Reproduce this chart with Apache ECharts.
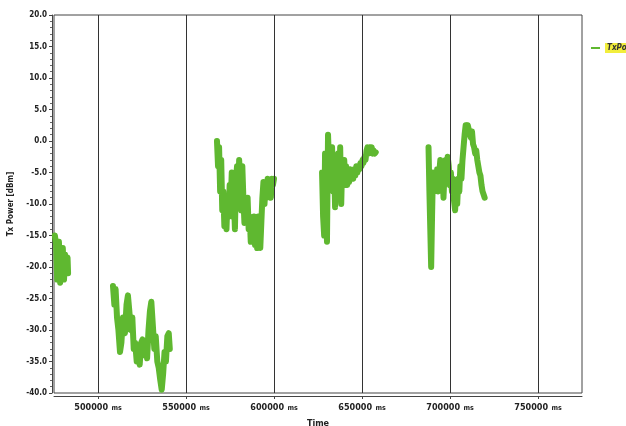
<!DOCTYPE html>
<html><head><meta charset="utf-8">
<script src="https://cdn.jsdelivr.net/npm/echarts@6/dist/echarts.min.js"></script>
<style>html,body{margin:0;padding:0;background:#fff}#c{width:626px;height:426px}</style>
</head><body><div id="c"></div>
<script>
// Time (ms) and Tx Power (dBm) per recorded segment
const seg1T = [475500,476200,476800,477300,477800,478500,479000,479500,480000,480700,481300,482000,482700,483000];
const seg1V = [-15,-16.5,-22,-18,-16,-22.5,-19,-21,-17,-22,-18,-20,-18.5,-21];
const seg2T = [508500,509300,510000,510800,511600,512500,513300,514200,515300,516200,517000,517800,518600,519500,520300,521100,522000,522800,523700,524500,525300,526200,527000,527900,528700,529500,530300,531100,532000,532800,533700,534500,535400,536200,537000,537800,538600,539400,540200,540800];
const seg2V = [-23,-26,-23.5,-28,-30,-33.5,-32,-28,-30.5,-26,-24.5,-27,-30,-28,-33,-32,-35,-34,-35.5,-32,-31.5,-34,-32,-34.5,-30,-27,-25.5,-29,-33,-31,-35,-36,-38,-39.5,-37,-33.5,-35,-31,-30.5,-33];
const seg3T = [567600,568200,568800,569400,570000,570600,571200,571800,572400,573000,573600,574200,574800,575400,576000,576600,577200,577800,578400,579000,579600,580200,580800,581400,582000,582600,583200,583800,584400,585000,585600,586200,586800,587400,588000,588600,589200,589800,590400,591000,591600,592200,592800,593400,594000,594600,595200,595800,596400,597000,597600,598200,598800,599400,600000];
const seg3V = [0,-4,-1,-8,-3,-11,-8,-13.5,-10,-14,-9,-12,-7,-10,-5,-12,-9,-14,-6,-4,-9,-3,-6,-11,-4,-9,-13,-10,-12,-9,-14,-12,-16,-13,-15,-12,-16.5,-14,-17,-12,-15,-17,-13,-9,-6.5,-10,-7,-9,-6,-8,-6.5,-9,-6,-7,-6];
const seg4T = [627300,627900,628500,629000,629600,630100,630700,631200,631800,632400,633000,633600,634200,634700,635300,635900,636400,637000,637600,638200,638700,639300,639900,640400,641000,641600,642200,642700,643300,643900,644500,645000,645600,646200,646800,647400,647900,648500,649100,649700,650300,650800,651400,652000,652600,653100,653700,654300,654900,655500,656100,656600,657200,657800];
const seg4V = [-5,-12,-15,-2,-8,-16,1,-3,-6,-4,-1,-8,-4,-10.5,-3,-6,-2,-9,-1,-10,-4,-7,-3,-6,-4,-7,-5,-6.5,-4.5,-6,-5,-6,-4.5,-5.5,-4,-5,-4,-4.5,-3.5,-4,-3,-3.5,-2.5,-3,-1.5,-1,-2,-1,-1.5,-1,-2,-1.5,-2,-1.8];
const seg5T = [687800,688300,688800,689300,689800,690300,690900,691500,692100,692700,693300,693900,694500,695100,695700,696300,696900,697500,698100,698700,699300,699900,700500,701100,701700,702300,702900,703500,704100,704700,705300,705900,706500,707100,707700,708300,708900,709500,710100,710700,711300,711900,712500,713100,713700,714300,714900,715500,716100,716700,717300,717900,718500,719100,719700];
const seg5V = [-1,-8,-14,-20,-12,-5,-8,-6,-7,-4.5,-8,-5,-3,-6,-4,-9,-5,-3,-6,-2.5,-4,-7,-5,-8,-6,-9.5,-11,-8,-10,-6,-8,-4,-6,-3,-1,1,2.5,1.5,2.5,2.5,1,0.5,1.5,-0.5,-1,-2,-1.5,-3,-4,-5,-5.5,-7,-8,-8.5,-9];
const xTicks = [500000,550000,600000,650000,700000,750000];
const seriesName = 'TxPower';

const FONT = "'Liberation Sans Narrow','DejaVu Sans Condensed','Liberation Sans',Arial,sans-serif";
const segs = [[seg1T,seg1V],[seg2T,seg2V],[seg3T,seg3V],[seg4T,seg4V],[seg5T,seg5V]];
const data = [];
segs.forEach(([t,v],i)=>{ if(i>0) data.push([t[0]-1,'-']); t.forEach((x,j)=>data.push([x,v[j]])); });

const chart = echarts.init(document.getElementById('c'));
chart.setOption({
  animation:false,
  backgroundColor:'#fff',
  grid:{left:54,top:15,right:44,bottom:33,outerBoundsMode:'none',containLabel:false,show:true,borderColor:'#444',borderWidth:1,backgroundColor:'transparent'},
  legend:{show:true,left:586,top:38,itemWidth:9,itemHeight:2,itemGap:0,
    data:[{name:seriesName,icon:'rect'}],
    textStyle:{fontFamily:FONT,fontSize:8,fontWeight:'bold',fontStyle:'italic',color:'#333',backgroundColor:'#f2ee3c',padding:[1,2]}},
  xAxis:{type:'value',min:475000,max:775000,
    name:'Time',nameLocation:'middle',nameGap:18,
    nameTextStyle:{fontFamily:FONT,fontSize:9,fontWeight:'bold',color:'#222'},
    axisLine:{show:true,onZero:false,lineStyle:{color:'#444',width:1}},
    offset:3,
    axisTick:{show:true,customValues:xTicks,length:3,lineStyle:{color:'#444'}},
    minorTick:{show:false},
    splitLine:{show:false},
    axisLabel:{customValues:xTicks,margin:6,color:'#222',
      formatter:v=>'{a|'+v+'} {b|ms}',
      rich:{a:{fontFamily:FONT,fontSize:9,fontWeight:'bold',color:'#222'},b:{fontFamily:FONT,fontSize:7,fontWeight:'bold',color:'#222'}}}
  },
  yAxis:{type:'value',min:-40,max:20,interval:5,
    name:'Tx Power [dBm]',nameLocation:'middle',nameGap:33,nameRotate:90,
    nameTextStyle:{fontFamily:FONT,fontSize:8,fontWeight:'bold',color:'#222'},
    offset:2,
    axisLine:{show:true,onZero:false,lineStyle:{color:'#444',width:1}},
    axisTick:{show:true,length:3,lineStyle:{color:'#444'}},
    minorTick:{show:true,splitNumber:5,length:2,lineStyle:{color:'#666'}},
    splitLine:{show:false},
    axisLabel:{margin:5,fontFamily:FONT,fontSize:8,fontWeight:'bold',color:'#222',formatter:v=>v.toFixed(1)}
  },
  series:[{
    name:seriesName,type:'line',data:data,showSymbol:false,connectNulls:false,
    lineStyle:{color:'#5fb830',width:6,join:'round',cap:'round'},
    itemStyle:{color:'#5fb830'},
    markLine:{silent:true,symbol:'none',label:{show:false},
      lineStyle:{color:'#333',width:1,type:'solid'},
      data:xTicks.map(x=>({xAxis:x}))}
  }]
});
</script></body></html>
